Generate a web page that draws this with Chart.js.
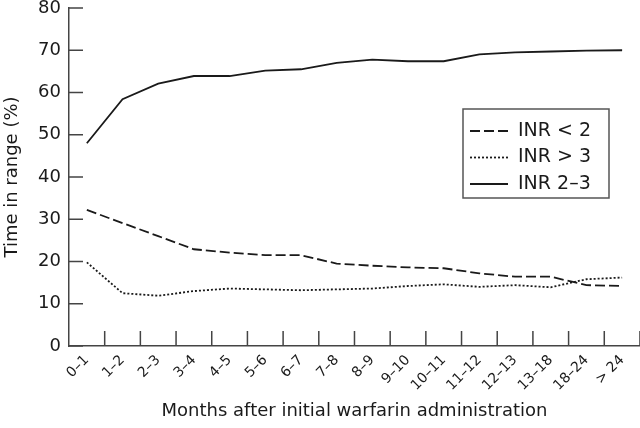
<!DOCTYPE html>
<html>
<head>
<meta charset="utf-8">
<script src="https://cdn.jsdelivr.net/npm/chart.js@4.4.0/dist/chart.umd.min.js"></script>
<style>
  html, body { margin: 0; padding: 0; background: #fff; }
  #wrap { width: 640px; height: 428px; position: relative; }
</style>
</head>
<body>
<div id="wrap"><canvas id="inrChart"></canvas></div>
<script>
// categories (months after start)
var months = ["0–1", "1–2", "2–3", "3–4", "4–5", "5–6", "6–7", "7–8", "8–9", "9–10", "10–11", "11–12", "12–13", "13–18", "18–24", "> 24"];

// percentage of time in each INR range
var inrBelow2 = [32.2, 29.1, 26.0, 22.9, 22.1, 21.5, 21.5, 19.5, 19.0, 18.6, 18.4, 17.2, 16.4, 16.4, 14.4, 14.2];
var inrAbove3 = [19.8, 12.5, 11.9, 13.0, 13.6, 13.4, 13.2, 13.4, 13.6, 14.2, 14.6, 14.0, 14.4, 13.9, 15.8, 16.2];
var inrInRange = [48.0, 58.4, 62.1, 63.9, 63.9, 65.2, 65.5, 67.0, 67.8, 67.4, 67.4, 69.0, 69.5, 69.7, 69.9, 70.0];

var yTicks = [0, 10, 20, 30, 40, 50, 60, 70, 80];

var ink = "#1a1a1a";
var axisColor = "#444";
var fontFamily = "'DejaVu Sans', sans-serif";

// tick marks drawn inside the plot area, like the printed figure
var innerTicks = {
    id: 'innerTicks',
    afterDraw: function (chart) {
        var ctx = chart.ctx;
        var area = chart.chartArea;
        var x = chart.scales.x;
        var y = chart.scales.y;
        ctx.save();
        ctx.strokeStyle = axisColor;
        ctx.lineWidth = 1.5;
        ctx.beginPath();
        for (let i = 0; i < y.ticks.length; i++) {
            var py = y.getPixelForTick(i);
            ctx.moveTo(area.left, py);
            ctx.lineTo(area.left + 14, py);
        }
        for (let i = 1; i <= months.length; i++) {
            var px = x.getPixelForValue(i - 0.5);
            ctx.moveTo(px, area.bottom);
            ctx.lineTo(px, area.bottom - 15);
        }
        ctx.stroke();
        ctx.restore();
    }
};

// boxed legend with line samples
var boxLegend = {
    id: 'boxLegend',
    afterDraw: function (chart) {
        var ctx = chart.ctx;
        var left = 463, top = 109, w = 146, h = 89;
        ctx.save();
        ctx.strokeStyle = "#555";
        ctx.lineWidth = 1.5;
        ctx.strokeRect(left, top, w, h);
        ctx.font = "19px " + fontFamily;
        ctx.textBaseline = "middle";
        ctx.fillStyle = ink;
        chart.data.datasets.forEach(function (ds, i) {
            var cy = top + 22 + i * 26.5;
            ctx.strokeStyle = ink;
            ctx.lineWidth = ds.borderWidth;
            ctx.setLineDash(ds.borderDash || []);
            ctx.beginPath();
            ctx.moveTo(left + 7, cy);
            ctx.lineTo(left + 45, cy);
            ctx.stroke();
            ctx.setLineDash([]);
            ctx.fillText(ds.label, left + 55, cy);
        });
        ctx.restore();
    }
};

var ctx = document.getElementById('inrChart').getContext('2d');
var myChart = new Chart(ctx, {
    type: 'line',
    data: {
        labels: months,
        datasets: [{
            label: 'INR < 2',
            data: inrBelow2,
            borderColor: ink,
            borderWidth: 1.8,
            borderDash: [10, 4],
            pointRadius: 0,
            tension: 0
        }, {
            label: 'INR > 3',
            data: inrAbove3,
            borderColor: ink,
            borderWidth: 1.8,
            borderDash: [2, 2],
            pointRadius: 0,
            tension: 0
        }, {
            label: 'INR 2–3',
            data: inrInRange,
            borderColor: ink,
            borderWidth: 1.8,
            pointRadius: 0,
            tension: 0
        }]
    },
    options: {
        responsive: true,
        maintainAspectRatio: false,
        animation: false,
        layout: { padding: { top: 8, right: 0, bottom: 0, left: 0 } },
        plugins: {
            legend: { display: false },
            tooltip: { enabled: false }
        },
        scales: {
            x: {
                offset: true,
                grid: { display: false, drawTicks: false },
                border: { display: true, color: axisColor, width: 1.5 },
                ticks: {
                    color: ink,
                    font: { family: fontFamily, size: 14 },
                    maxRotation: 45,
                    minRotation: 45,
                    autoSkip: false,
                    padding: 6
                },
                title: {
                    display: true,
                    text: 'Months after initial warfarin administration',
                    color: ink,
                    font: { family: fontFamily, size: 18 },
                    padding: { top: 0, bottom: 6 }
                },
                afterFit: function (scale) { scale.height = 82; }
            },
            y: {
                min: 0,
                max: 80,
                afterBuildTicks: function (scale) {
                    scale.ticks = yTicks.map(function (v) { return { value: v }; });
                },
                grid: { display: false, drawTicks: false },
                border: { display: true, color: axisColor, width: 1.5 },
                ticks: {
                    color: ink,
                    font: { family: fontFamily, size: 18 },
                    padding: 8
                },
                title: {
                    display: true,
                    text: 'Time in range (%)',
                    color: ink,
                    font: { family: fontFamily, size: 18 },
                    padding: { top: 2, bottom: 0 }
                },
                afterFit: function (scale) {
                    scale.width = 69;
                    scale.paddingTop = 0;
                    scale.paddingBottom = 0;
                }
            }
        }
    },
    plugins: [innerTicks, boxLegend]
});
</script>
</body>
</html>
